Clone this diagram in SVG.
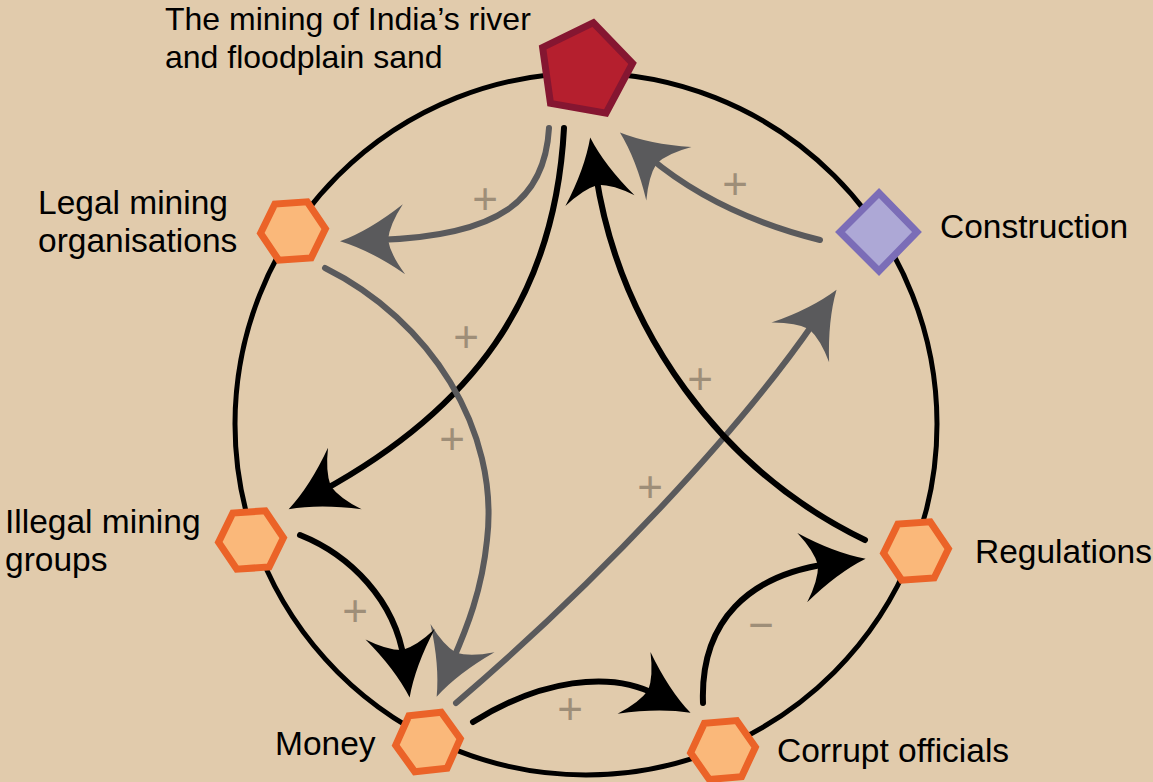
<svg xmlns="http://www.w3.org/2000/svg" width="1153" height="782" viewBox="0 0 1153 782">
  <style>
    .bg { fill: #e1cbac; }
    .ring { fill: none; stroke: #000; stroke-width: 5; }
    .hex { fill: #fab87a; stroke: #eb6328; stroke-width: 7; stroke-linejoin: miter; }
    .pent { fill: #b51f2e; stroke: #851631; stroke-width: 7; }
    .diam { fill: #ada8d6; stroke: #7b6db7; stroke-width: 7; }
    .lbl { font-family: "Liberation Sans", Arial, sans-serif; font-size: 33.5px; fill: #000; }
    .title { font-size: 32px; }
    .pos { stroke: #000; stroke-width: 6; fill: none; stroke-linecap: round; }
    .posg { stroke: #5a5a5c; stroke-width: 6; fill: none; stroke-linecap: round; }
    .sign { font-family: "Liberation Sans", Arial, sans-serif; font-size: 44px; fill: #9e8e78; text-anchor: middle; }
  </style>
  <defs>
    <!-- swept arrowheads; tip sits 38px ahead of the path end -->
    <marker id="ahB" markerUnits="userSpaceOnUse" viewBox="-40 -40 80 80" markerWidth="80" markerHeight="80" refX="0" refY="0" orient="auto" overflow="visible">
      <path d="M38,0 Q8,10 -26,35 Q-12,15 -10,0 Q-12,-15 -26,-35 Q8,-10 38,0 Z" fill="#000"/>
    </marker>
    <marker id="ahG" markerUnits="userSpaceOnUse" viewBox="-40 -40 80 80" markerWidth="80" markerHeight="80" refX="0" refY="0" orient="auto" overflow="visible">
      <path d="M38,0 Q8,10 -26,35 Q-12,15 -10,0 Q-12,-15 -26,-35 Q8,-10 38,0 Z" fill="#5a5a5c"/>
    </marker>
    <polygon id="hexShape" points="32.5,0 16.25,28.15 -16.25,28.15 -32.5,0 -16.25,-28.15 16.25,-28.15"/>
  </defs>

  <rect class="bg" x="0" y="0" width="1153" height="782"/>

  <!-- outer cycle ring -->
  <circle class="ring" cx="586" cy="424" r="351"/>

  <g id="connectors">
    <path class="posg" d="M549,128 C545,200 500,236 378,240" marker-end="url(#ahG)"/>
    <path class="pos" d="M564,128 C555,300 470,410 322,491" marker-end="url(#ahB)"/>
    <path class="posg" d="M325,268 C430,320 500,430 487,540 C482,590 467,628 452,662" marker-end="url(#ahG)"/>
    <path class="pos" d="M300,535 C350,555 395,600 404,660" marker-end="url(#ahB)"/>
    <path class="posg" d="M456,703 C600,580 740,430 815,321" marker-end="url(#ahG)"/>
    <path class="pos" d="M473,722 C540,680 610,670 657,695" marker-end="url(#ahB)"/>
    <path class="pos" d="M703,703 C700,620 750,575 828,564" marker-end="url(#ahB)"/>
    <path class="pos" d="M865,540 C720,470 620,330 596,175" marker-end="url(#ahB)"/>
    <path class="posg" d="M820,240 C760,225 700,200 649,157" marker-end="url(#ahG)"/>

    <text class="sign" x="485" y="214">+</text>
    <text class="sign" x="466" y="352">+</text>
    <text class="sign" x="452" y="454">+</text>
    <text class="sign" x="355" y="626">+</text>
    <text class="sign" x="650" y="502">+</text>
    <text class="sign" x="700" y="394">+</text>
    <text class="sign" x="735" y="199">+</text>
    <text class="sign" x="570" y="724">+</text>
    <text class="sign" x="761" y="640">−</text>
  </g>

  <g id="node-sand">
    <polygon class="pent" transform="translate(585,70) rotate(10)" points="0,-48 45.65,-14.83 28.21,38.83 -28.21,38.83 -45.65,-14.83"/>
    <text class="lbl title" x="165" y="30">The mining of India’s river</text>
    <text class="lbl title" x="165" y="68">and floodplain sand</text>
  </g>

  <g id="node-legal">
    <use href="#hexShape" class="hex" transform="translate(293,231) rotate(-4)"/>
    <text class="lbl" x="38" y="214">Legal mining</text>
    <text class="lbl" x="38" y="252">organisations</text>
  </g>

  <g id="node-construction">
    <polygon class="diam" points="879,193 917,232 879,271 840,232"/>
    <text class="lbl" x="940" y="238">Construction</text>
  </g>

  <g id="node-illegal">
    <use href="#hexShape" class="hex" transform="translate(251,540) rotate(-4)"/>
    <text class="lbl" x="5" y="533">Illegal mining</text>
    <text class="lbl" x="5" y="571">groups</text>
  </g>

  <g id="node-money">
    <use href="#hexShape" class="hex" transform="translate(428,742) rotate(-6)"/>
    <text class="lbl" x="275" y="755">Money</text>
  </g>

  <g id="node-corrupt">
    <use href="#hexShape" class="hex" transform="translate(723,750) rotate(-5)"/>
    <text class="lbl" x="777" y="762">Corrupt officials</text>
  </g>

  <g id="node-regulations">
    <use href="#hexShape" class="hex" transform="translate(916,551) rotate(-4)"/>
    <text class="lbl" x="975" y="563">Regulations</text>
  </g>
</svg>
